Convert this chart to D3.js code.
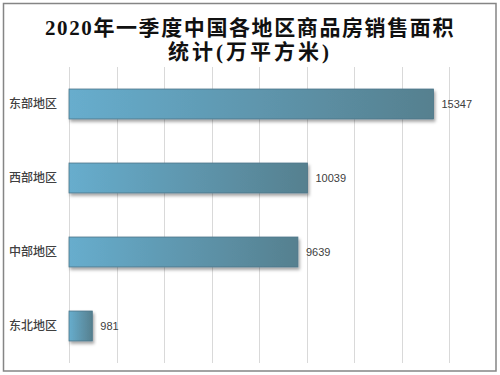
<!DOCTYPE html>
<html lang="zh">
<head>
    <meta charset="UTF-8" />
    <title>2020年一季度中国各地区商品房销售面积统计</title>
    <script src="https://d3js.org/d3.v7.min.js"></script>
    <style>
        body { margin: 0; background: #fff; }
    </style>
</head>
<body>
    <div class="canvas"></div>

    <script>
        // 数据
        const regions = ["东部地区", "西部地区", "中部地区", "东北地区"];
        const areas = [15347, 10039, 9639, 981];
        const xTicks = [0, 2000, 4000, 6000, 8000, 10000, 12000, 14000, 16000];
        const titleLines = ["2020年一季度中国各地区商品房销售面积", "统计(万平方米)"];

        const W = 500, H = 375;
        const margin = { top: 67, right: 51, bottom: 12, left: 69 };
        const innerW = W - margin.left - margin.right;
        const innerH = H - margin.top - margin.bottom;

        const svg = d3.select(".canvas").append("svg")
            .attr("width", W).attr("height", H);

        // 渐变和阴影
        const defs = svg.append("defs");
        const grad = defs.append("linearGradient").attr("id", "barGrad")
            .attr("x1", "0%").attr("x2", "100%").attr("y1", "0%").attr("y2", "0%");
        grad.append("stop").attr("offset", "0%").attr("stop-color", "#67adcd");
        grad.append("stop").attr("offset", "100%").attr("stop-color", "#56808f");

        const shadow = defs.append("filter").attr("id", "shadow")
            .attr("x", "-10%").attr("y", "-20%").attr("width", "130%").attr("height", "160%");
        shadow.append("feDropShadow").attr("dx", 1.5).attr("dy", 2.5)
            .attr("stdDeviation", 1.5).attr("flood-color", "#000").attr("flood-opacity", 0.35);

        // 外框
        svg.append("rect")
            .attr("x", 3.5).attr("y", 3.5).attr("width", 492.5).attr("height", 367.5)
            .attr("fill", "#fff").attr("stroke", "#858585").attr("stroke-width", 1.5);

        // 标题
        svg.append("g").selectAll("text").data(titleLines).enter()
            .append("text")
            .attr("x", W / 2)
            .attr("y", (d, i) => 35 + i * 24)
            .attr("text-anchor", "middle")
            .attr("font-family", "'Liberation Serif', 'Noto Sans CJK SC', serif")
            .attr("font-size", 21)
            .attr("font-weight", "bold")
            .attr("letter-spacing", (d, i) => i === 0 ? 1.6 : 3)
            .attr("fill", "#111")
            .text(d => d);

        const g = svg.append("g")
            .attr("transform", `translate(${margin.left},${margin.top})`);

        const x = d3.scaleLinear().domain([0, 16000]).range([0, 380]);
        const y = d3.scaleBand().domain(regions).range([0, innerH]).paddingInner(0.595).paddingOuter(0.2975);

        // 网格线
        g.selectAll(".grid").data(xTicks).enter()
            .append("line")
            .attr("x1", d => Math.round(x(d)) + 0.5).attr("x2", d => Math.round(x(d)) + 0.5)
            .attr("y1", 0).attr("y2", innerH)
            .attr("stroke", "#d9d9d9").attr("stroke-width", 1);

        // 柱子
        const data = regions.map((r, i) => ({ region: r, value: areas[i] }));

        g.selectAll(".bar").data(data).enter()
            .append("rect")
            .attr("x", 0)
            .attr("y", d => y(d.region))
            .attr("width", d => x(d.value))
            .attr("height", y.bandwidth())
            .attr("fill", "url(#barGrad)")
            .attr("stroke", "#4b7588").attr("stroke-width", 0.8)
            .attr("filter", "url(#shadow)");

        // 数值标签
        g.selectAll(".val").data(data).enter()
            .append("text")
            .attr("x", d => x(d.value) + 8)
            .attr("y", d => y(d.region) + y.bandwidth() / 2)
            .attr("dy", "0.35em")
            .attr("font-family", "'Liberation Sans', sans-serif")
            .attr("font-size", 11)
            .attr("fill", "#404040")
            .text(d => d.value);

        // 类别标签
        const yAxis = g.append("g").call(d3.axisLeft(y).tickSize(0).tickPadding(12));
        yAxis.select(".domain").remove();
        yAxis.selectAll("text")
            .attr("font-family", "'Noto Sans CJK SC', sans-serif")
            .attr("font-size", 12)
            .attr("font-weight", 500)
            .attr("fill", "#404040");
    </script>
</body>
</html>
